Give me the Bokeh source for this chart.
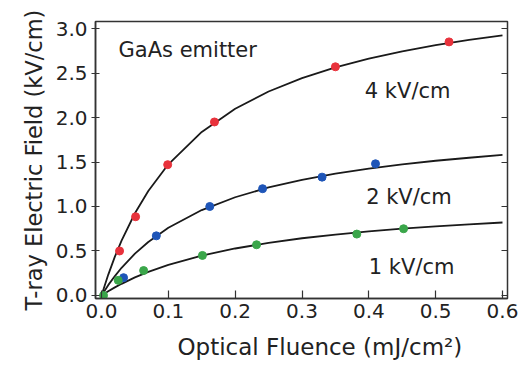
from bokeh.plotting import figure
from bokeh.models import Range1d, FixedTicker, LinearAxis, Label, NumeralTickFormatter, Title
from bokeh.embed import file_html
from bokeh.resources import INLINE

# Measured points (fluence mJ/cm^2, field kV/cm)
red_x = [0.027, 0.051, 0.099, 0.169, 0.35, 0.52]
red_y = [0.50, 0.885, 1.47, 1.95, 2.57, 2.85]
blue_x = [0.033, 0.082, 0.162, 0.241, 0.33, 0.41]
blue_y = [0.20, 0.67, 1.00, 1.20, 1.33, 1.48]
green_x = [0.003, 0.025, 0.063, 0.151, 0.232, 0.382, 0.452]
green_y = [0.0, 0.17, 0.28, 0.45, 0.57, 0.69, 0.75]

# Fit curves
curve_x = [0.0, 0.01, 0.02, 0.03, 0.05, 0.07, 0.1, 0.15, 0.2, 0.25, 0.3, 0.35, 0.4, 0.45, 0.5, 0.55, 0.6]
curve_red = [0.0, 0.232, 0.436, 0.617, 0.924, 1.174, 1.474, 1.838, 2.098, 2.292, 2.443, 2.563, 2.662, 2.744, 2.813, 2.872, 2.924]
curve_blue = [0.0, 0.116, 0.218, 0.311, 0.470, 0.601, 0.761, 0.960, 1.104, 1.214, 1.300, 1.369, 1.426, 1.473, 1.514, 1.548, 1.579]
curve_green = [0.0, 0.047, 0.091, 0.131, 0.203, 0.265, 0.344, 0.448, 0.528, 0.591, 0.643, 0.685, 0.720, 0.751, 0.777, 0.800, 0.820]

x_ticks = [0.0, 0.1, 0.2, 0.3, 0.4, 0.5, 0.6]
y_ticks = [0.0, 0.5, 1.0, 1.5, 2.0, 2.5, 3.0]

labels = ["GaAs emitter", "4 kV/cm", "2 kV/cm", "1 kV/cm"]
label_x = [0.0255, 0.394, 0.396, 0.40]
label_y = [2.76, 2.30, 1.11, 0.325]

x_title = "Optical Fluence (mJ/cm²)"
y_title = "T-ray Electric Field (kV/cm)"

FONT = "DejaVu Sans"
TXT = "#222222"

p = figure(width=518, height=371, output_backend="svg", toolbar_location=None,
           x_range=Range1d(-0.009, 0.6075), y_range=Range1d(-0.034, 3.079),
           min_border_left=95, min_border_right=11, min_border_top=21, min_border_bottom=73)
p.grid.visible = False
p.background_fill_color = "white"
p.border_fill_color = "white"
p.outline_line_color = "#333333"
p.outline_line_width = 1.5

for ax in (p.xaxis[0], p.yaxis[0]):
    ax.axis_line_color = "#333333"
    ax.axis_line_width = 1.5
    ax.major_tick_line_color = "#333333"
    ax.major_tick_line_width = 1.2
    ax.minor_tick_line_color = None
    ax.major_label_text_font = FONT
    ax.major_label_text_font_size = "20px"
    ax.major_label_text_color = TXT
    ax.axis_label_text_font = FONT
    ax.axis_label_text_font_size = "22.5px"
    ax.axis_label_text_font_style = "normal"
    ax.axis_label_text_color = TXT
    ax.formatter = NumeralTickFormatter(format="0.0")

p.xaxis[0].ticker = FixedTicker(ticks=x_ticks)
p.yaxis[0].ticker = FixedTicker(ticks=y_ticks)
p.xaxis[0].major_tick_in = 8
p.xaxis[0].major_tick_out = 0
p.xaxis[0].major_label_standoff = 5
p.yaxis[0].major_tick_in = 4
p.yaxis[0].major_tick_out = 4
p.yaxis[0].major_label_standoff = 4
p.yaxis[0].axis_label = y_title
p.yaxis[0].axis_label_standoff = 6

right = LinearAxis(ticker=FixedTicker(ticks=y_ticks), major_label_text_font_size="0px",
                   major_label_standoff=0, major_tick_in=6, major_tick_out=0, axis_line_color=None,
                   major_tick_line_color="#333333", minor_tick_line_color=None)
p.add_layout(right, "right")

p.add_layout(Title(text=x_title, align="left", offset=82, text_font=FONT,
                   text_font_size="23px", text_font_style="normal", text_color=TXT,
                   standoff=22), "below")

p.line(curve_x, curve_red, line_color="#1a1a1a", line_width=1.8)
p.line(curve_x, curve_blue, line_color="#1a1a1a", line_width=1.8)
p.line(curve_x, curve_green, line_color="#1a1a1a", line_width=1.8)

p.scatter(red_x, red_y, size=8, fill_color="#e8323c", line_color="#e8323c")
p.scatter(blue_x, blue_y, size=8, fill_color="#1e55b8", line_color="#1e55b8")
p.scatter(green_x, green_y, size=8, fill_color="#3aa64a", line_color="#3aa64a")

for t, x, y in zip(labels, label_x, label_y):
    p.add_layout(Label(x=x, y=y, text=t, text_font=FONT, text_font_size="21px",
                       text_color=TXT, text_baseline="middle", text_align="left"))

open("out.html", "w").write(file_html(p, INLINE))
